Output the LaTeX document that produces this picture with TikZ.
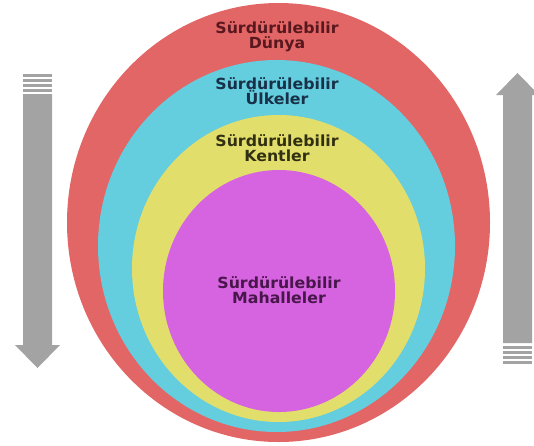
\documentclass[tikz,border=0pt]{standalone}
\usepackage{fontspec}
\setmainfont{DejaVu Sans}[FakeStretch=1.03]
\usepackage{tikz}
\definecolor{ringred}{RGB}{226,102,102}
\definecolor{ringcyan}{RGB}{100,205,222}
\definecolor{ringyellow}{RGB}{226,222,108}
\definecolor{ringmagenta}{RGB}{214,100,224}
\definecolor{arrowgray}{RGB}{163,163,163}
\definecolor{redtext}{RGB}{88,24,30}
\definecolor{cyantext}{RGB}{24,48,72}
\definecolor{yellowtext}{RGB}{50,48,18}
\definecolor{magentatext}{RGB}{72,22,74}
\tikzstyle{ringlabel} = [align=center, anchor=north, inner sep=0pt, font=\bfseries\fontsize{15.3}{15}\selectfont]
\tikzstyle{bar} = [fill=arrowgray, draw=none]

\begin{document}
\begin{tikzpicture}[x=1pt, y=-1pt]
  \useasboundingbox (0,0) rectangle (534,445);

  % Rings
  \fill[ringred] (278.5,222.5) ellipse [x radius=211.5pt, y radius=219.5pt];
  \fill[ringcyan] (276.5,246) ellipse [x radius=178.5pt, y radius=186pt];
  \fill[ringyellow] (278.5,268.5) ellipse [x radius=146.5pt, y radius=153.5pt];
  \fill[ringmagenta] (279,291) ellipse [x radius=116pt, y radius=121pt];

  % Labels
  \node[ringlabel, text=redtext] (dunya) at (277,21.3) {Sürdürülebilir\\Dünya};
  \node[ringlabel, text=cyantext] (ulkeler) at (277,77.6) {Sürdürülebilir\\Ülkeler};
  \node[ringlabel, text=yellowtext] (kentler) at (277,134.6) {Sürdürülebilir\\Kentler};
  \node[ringlabel, text=magentatext] (mahalleler) at (279,276.6) {Sürdürülebilir\\Mahalleler};

  % Arrows
  \fill[bar] (23,94) -- (52,94) -- (52,345) -- (60,345) -- (37.5,368)
    -- (15,345) -- (23,345) -- cycle;
  \foreach \y in {74,79,84,89}
    \fill[bar] (23,\y) rectangle (52,\y+3);
  \fill[bar] (503,343) -- (532,343) -- (532,95) -- (539,95) -- (517.5,73)
    -- (496,95) -- (503,95) -- cycle;
  \foreach \y in {346,351,356,361}
    \fill[bar] (503,\y) rectangle (532,\y+3);
\end{tikzpicture}
\end{document}
